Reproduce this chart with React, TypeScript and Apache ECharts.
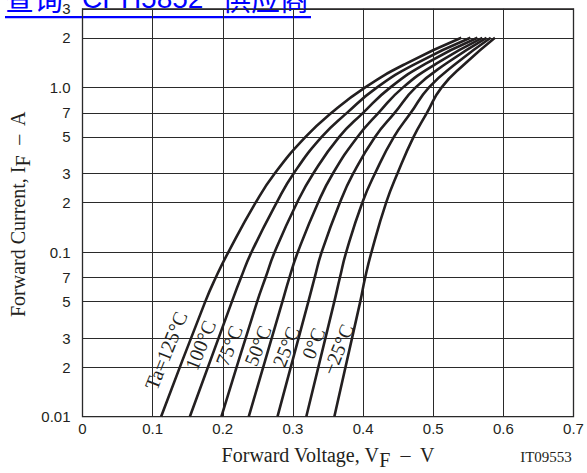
import React, { useEffect, useRef } from "react";
import * as echarts from "echarts";

// Forward current (A) sample points, shared by all curves
const currents = [0.01, 0.05, 0.07, 0.1, 0.2, 0.3, 0.5, 0.7, 1, 1.4, 2];
// Forward voltage (V) per ambient temperature
const v125 = [0.112, 0.175, 0.19, 0.208, 0.247, 0.274, 0.318, 0.355, 0.403, 0.462, 0.54];
const v100 = [0.153, 0.213, 0.226, 0.241, 0.277, 0.301, 0.341, 0.377, 0.42, 0.476, 0.553];
const v75 = [0.198, 0.249, 0.261, 0.274, 0.306, 0.329, 0.366, 0.4, 0.439, 0.49, 0.563];
const v50 = [0.237, 0.285, 0.295, 0.307, 0.336, 0.357, 0.392, 0.422, 0.457, 0.505, 0.57];
const v25 = [0.278, 0.322, 0.331, 0.341, 0.367, 0.386, 0.417, 0.445, 0.475, 0.519, 0.576];
const v0 = [0.319, 0.359, 0.367, 0.376, 0.399, 0.417, 0.444, 0.468, 0.494, 0.533, 0.582];
const vm25 = [0.359, 0.396, 0.403, 0.412, 0.433, 0.449, 0.472, 0.491, 0.512, 0.546, 0.588];

const curveVoltages = [v125, v100, v75, v50, v25, v0, vm25];
const curveNames = ["Ta=125°C", "100°C", "75°C", "50°C", "25°C", "0°C", "−25°C"];
// where each curve's label sits (V, A)
const labelV = [0.119, 0.168, 0.209, 0.25, 0.29, 0.329, 0.364];
const labelI = [0.0252, 0.0272, 0.027, 0.027, 0.0266, 0.0279, 0.0256];

// minor (2,3,5,7) grid lines on the log current axis and their labels
const minorGrid = [2, 0.7, 0.5, 0.3, 0.2, 0.07, 0.05, 0.03, 0.02];
const minorLabels = ["2", "7", "5", "3", "2", "7", "5", "3", "2"];
// major tick labels
const majorValues = [0.01, 0.1, 1, 3];
const majorLabels = ["0.01", "0.1", "1.0", "3"];

const xMin = 0;
const xMax = 0.7;
const xStep = 0.1;
const yMin = 0.01;
const yMax = 3;

const INK = "#231f20";
const GRID = "#2a2a2a";
const SANS = "'Liberation Sans', Arial, sans-serif";
const SERIF = "'Liberation Serif', 'Times New Roman', serif";

export default function App() {
  const ref = useRef<HTMLDivElement>(null);

  useEffect(() => {
    if (!ref.current) return;
    const chart = echarts.init(ref.current, undefined, { renderer: "svg" });

    const curveSeries = curveVoltages.map((vs, k) => ({
      type: "line",
      name: curveNames[k],
      data: vs.map((v, i) => [v, currents[i]]),
      smooth: 0.5,
      showSymbol: false,
      symbol: "none",
      z: 3,
      lineStyle: { color: INK, width: 2.6 },
      markPoint: {
        silent: true,
        symbol: "circle",
        symbolSize: 0,
        itemStyle: { color: "transparent" },
        label: {
          show: true,
          formatter: "{b}",
          rotate: 68,
          fontFamily: SERIF,
          fontSize: 20,
          color: INK,
        },
        data: [{ name: curveNames[k], coord: [labelV[k], labelI[k]] }],
      },
    }));

    const option: any = {
      animation: false,
      backgroundColor: "#ffffff",
      grid: {
        left: 82.5,
        right: 13.5,
        top: 8.8,
        bottom: 56.3,
        show: true,
        borderColor: INK,
        borderWidth: 1.3,
        backgroundColor: "transparent",
        containLabel: false,
        outerBoundsMode: "none",
      },
      xAxis: {
        type: "value",
        min: xMin,
        max: xMax,
        interval: xStep,
        axisLine: { show: false },
        axisTick: { show: false },
        splitLine: { show: true, lineStyle: { color: GRID, width: 1 } },
        axisLabel: {
          fontFamily: SANS,
          fontSize: 15,
          color: INK,
          margin: 4,
          formatter: (v: number) => String(Number(v.toFixed(1))),
        },
      },
      yAxis: {
        type: "log",
        logBase: 10,
        min: yMin,
        max: yMax,
        axisLine: { show: false },
        axisTick: { show: false },
        splitLine: { show: true, lineStyle: { color: GRID, width: 1 } },
        axisLabel: {
          fontFamily: SANS,
          fontSize: 15,
          color: INK,
          margin: 12,
          formatter: (v: number) => {
            for (let i = 0; i < majorValues.length; i++) {
              if (Math.abs(Math.log10(v) - Math.log10(majorValues[i])) < 1e-6) return majorLabels[i];
            }
            return "";
          },
        },
      },
      series: [
        {
          type: "line",
          data: [],
          silent: true,
          z: 1,
          markLine: {
            silent: true,
            z: 1,
            symbol: ["none", "none"],
            lineStyle: { color: GRID, width: 1, type: "solid" },
            label: {
              show: true,
              position: "start",
              distance: 12,
              fontFamily: SANS,
              fontSize: 15,
              color: INK,
              formatter: (p: any) => p.name,
            },
            emphasis: { disabled: true },
            data: minorGrid.map((v, i) => ({ yAxis: v, name: minorLabels[i] })),
          },
        },
        ...curveSeries,
      ],
      graphic: [
        {
          type: "text",
          x: 328,
          y: 455,
          style: {
            text: "Forward Voltage, V{s|F}  –  V",
            fontFamily: SERIF,
            fontSize: 20,
            fill: INK,
            align: "center",
            verticalAlign: "middle",
            rich: { s: { fontFamily: SERIF, fontSize: 20, fill: INK, padding: [10, 0, 0, 0] } },
          },
        },
        {
          type: "text",
          x: 18,
          y: 214,
          rotation: Math.PI / 2,
          style: {
            text: "Forward Current, I{s|F}  –  A",
            fontFamily: SERIF,
            fontSize: 20,
            fill: INK,
            align: "center",
            verticalAlign: "middle",
            rich: { s: { fontFamily: SERIF, fontSize: 20, fill: INK, padding: [10, 0, 0, 0] } },
          },
        },
        {
          type: "text",
          x: 546,
          y: 457,
          style: {
            text: "IT09553",
            fontFamily: SERIF,
            fontSize: 15,
            fill: INK,
            align: "center",
            verticalAlign: "middle",
          },
        },
        {
          type: "text",
          x: 5,
          y: -2,
          style: {
            text: "查询",
            fontFamily: "'Noto Sans CJK SC', sans-serif",
            fontSize: 29,
            fill: "#0000ff",
            align: "left",
            verticalAlign: "middle",
          },
        },
        {
          type: "text",
          x: 82,
          y: -2,
          style: {
            text: "CPH5852",
            fontFamily: SANS,
            fontSize: 28,
            fill: "#0000ff",
            align: "left",
            verticalAlign: "middle",
          },
        },
        {
          type: "text",
          x: 222,
          y: -2,
          style: {
            text: "供应商",
            fontFamily: "'Noto Sans CJK SC', sans-serif",
            fontSize: 29,
            fill: "#0000ff",
            align: "left",
            verticalAlign: "middle",
          },
        },
        {
          type: "rect",
          shape: { x: 5, y: 16, width: 306, height: 2.2 },
          style: { fill: "#0000ff" },
        },
      ],
    };

    chart.setOption(option);
    return () => chart.dispose();
  }, []);

  return (
    <div
      ref={ref}
      style={{ position: "absolute", left: 0, top: 0, width: 587, height: 473, background: "#fff" }}
    />
  );
}
